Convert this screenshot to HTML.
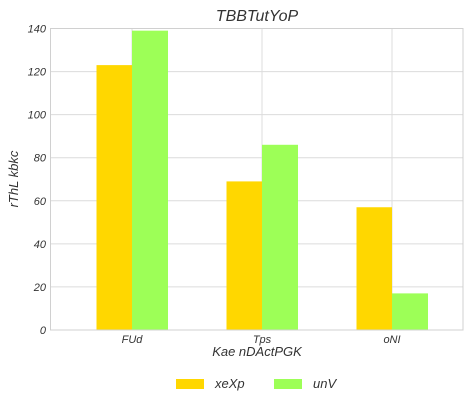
<!DOCTYPE html>
<html><head><style>
body{margin:0;background:#fff;}
svg text{font-family:"Liberation Sans",sans-serif;font-style:italic;fill:#333;}
</style></head><body>
<svg width="472" height="413">
<text x="257" y="21" font-size="16" text-anchor="middle">TBBTutYoP</text>
<g id="grid"></g>
<g id="bars"></g>
<rect x="50.5" y="28.5" width="412.5" height="301.5" fill="none" stroke="#d0d0d0"/>
<g id="ticks"></g>
<text x="257" y="356" font-size="13" text-anchor="middle">Kae nDActPGK</text>
<text x="18" y="179" font-size="13" text-anchor="middle" transform="rotate(-90 18 179)">rThL kbkc</text>
<g>
<rect x="176" y="379" width="28" height="10" fill="#ffd700"/>
<text x="215" y="388" font-size="13">xeXp</text>
<rect x="274" y="379" width="28" height="10" fill="#9dff57"/>
<text x="313" y="388" font-size="13">unV</text>
</g>
</svg>
<script>
const categories=["FUd","Tps","oNI"];
const seriesXeXp=[123,69,57];
const seriesUnV=[139,86,17];
const yTicks=[0,20,40,60,80,100,120,140];
const NS="http://www.w3.org/2000/svg";
const y=v=>330-v*(301.5/140);
const x=i=>132+i*130;
const bw=35.5;
function mk(t,a,p){const e=document.createElementNS(NS,t);for(const k in a)e.setAttribute(k,a[k]);document.getElementById(p).appendChild(e);return e;}
yTicks.forEach(v=>{
 const l=mk("line",{x1:50.5,x2:463,y1:y(v),y2:y(v),stroke:"#dcdcdc"},"grid");
 
 
 const t=mk("text",{x:46,y:y(v)+4,"font-size":11,"text-anchor":"end"},"ticks");
 t.textContent=v;
 
 
});
categories.forEach((c,i)=>{
 const l=mk("line",{x1:x(i),x2:x(i),y1:28.5,y2:330,stroke:"#dcdcdc"},"grid");
 
 
 const a=mk("rect",{x:x(i)-bw,y:y(seriesXeXp[i]),width:bw,height:330-y(seriesXeXp[i]),fill:"#ffd700"},"bars");
 
 
 const b=mk("rect",{x:x(i),y:y(seriesUnV[i]),width:bw+0.5,height:330-y(seriesUnV[i]),fill:"#9dff57"},"bars");
 
 
 const t=mk("text",{x:x(i),y:343,"font-size":11,"text-anchor":"middle"},"ticks");
 t.textContent=c;
 
 
});
</script>
</body></html>
